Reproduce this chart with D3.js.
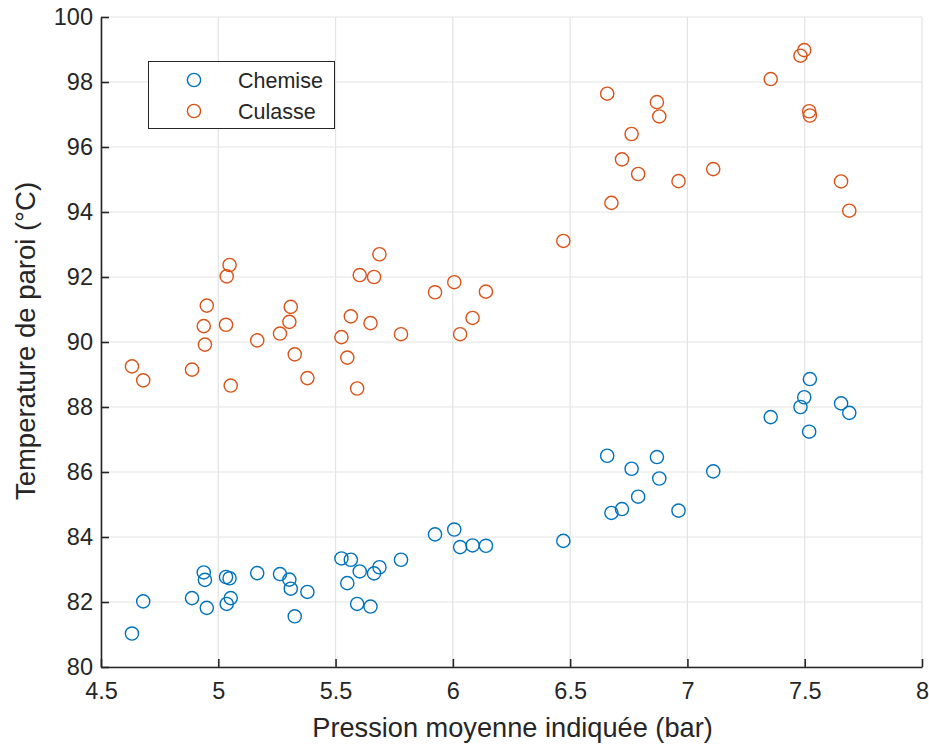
<!DOCTYPE html>
<html><head><meta charset="utf-8">
<script src="https://cdn.jsdelivr.net/npm/d3@7"></script>
<style>
body{margin:0;background:#fff;}
text{font-family:"Liberation Sans",Arial,Helvetica,sans-serif;fill:#262626;}
</style></head>
<body><svg id="c" width="929" height="747"></svg>
<script>
const pmi = [4.632,4.680,4.888,4.938,4.943,4.951,5.033,5.036,5.048,5.053,5.166,5.263,5.303,5.309,5.326,5.380,5.525,5.550,5.565,5.592,5.603,5.649,5.664,5.687,5.779,5.924,6.006,6.031,6.084,6.141,6.471,6.658,6.676,6.721,6.762,6.790,6.870,6.880,6.962,7.110,7.355,7.482,7.498,7.519,7.522,7.655,7.690];
const culasse = [89.25,88.82,89.15,90.49,89.92,91.12,90.53,92.02,92.37,88.66,90.05,90.26,90.62,91.08,89.62,88.89,90.15,89.52,90.79,88.57,92.06,90.58,92.00,92.70,90.24,91.53,91.84,90.24,90.74,91.55,93.11,97.64,94.28,95.62,96.40,95.17,97.38,96.94,94.95,95.32,98.09,98.81,98.98,97.10,96.97,94.94,94.04];
const chemise = [81.03,82.02,82.12,82.91,82.68,81.82,82.77,81.94,82.73,82.12,82.89,82.86,82.69,82.41,81.56,82.31,83.34,82.58,83.30,81.94,82.94,81.86,82.88,83.07,83.30,84.08,84.23,83.69,83.74,83.73,83.88,86.50,84.74,84.86,86.10,85.24,86.46,85.80,84.81,86.02,87.69,88.00,88.30,87.24,88.86,88.11,87.82];
const xTicks = [4.5,5,5.5,6,6.5,7,7.5,8];
const yTicks = [80,82,84,86,88,90,92,94,96,98,100];
const seriesNames = ["Chemise","Culasse"];
const seriesColors = ["#0072BD","#D95319"];

const svg = d3.select("#c");
const L=101, R=922, T=17, B=667;
const x = d3.scaleLinear().domain([4.5,8]).range([L,R]);
const y = d3.scaleLinear().domain([80,100]).range([B,T]);

// grid
const g = svg.append("g");
g.selectAll(".vg").data(xTicks).enter().append("line")
  .attr("x1",d=>x(d)).attr("x2",d=>x(d)).attr("y1",T).attr("y2",B)
  .attr("stroke","#e3e3e3").attr("stroke-width",1.2);
g.selectAll(".hg").data(yTicks).enter().append("line")
  .attr("x1",L).attr("x2",R).attr("y1",d=>y(d)).attr("y2",d=>y(d))
  .attr("stroke","#e3e3e3").attr("stroke-width",1.2);

// axes
const xa = svg.append("g").attr("transform",`translate(0,${B})`)
  .call(d3.axisBottom(x).tickValues(xTicks).tickSizeInner(-8).tickSizeOuter(0).tickPadding(16).tickFormat(d3.format("")));
const ya = svg.append("g").attr("transform",`translate(${L},0)`)
  .call(d3.axisLeft(y).tickValues(yTicks).tickSizeInner(-8).tickSizeOuter(0).tickPadding(8).tickFormat(d3.format("")));
[xa,ya].forEach(a=>{
  a.select(".domain").attr("stroke","#262626").attr("stroke-width",1.6);
  a.selectAll(".tick line").attr("stroke","#262626").attr("stroke-width",1.6);
  a.selectAll(".tick text").attr("font-size",23.5).attr("fill","#262626")
   .style("font-family","'Liberation Sans',Arial,sans-serif");
});
xa.selectAll(".tick text").attr("dy","0.71em").attr("y",15);

// points
const series = [chemise, culasse];
series.forEach((vals,si)=>{
  svg.append("g").selectAll("circle").data(vals).enter().append("circle")
    .attr("cx",(d,i)=>x(pmi[i])).attr("cy",d=>y(d)).attr("r",6.6)
    .attr("fill","none").attr("stroke",seriesColors[si]).attr("stroke-width",1.4);
});

// labels
svg.append("text").attr("x",(L+R)/2+1).attr("y",737).attr("text-anchor","middle")
  .attr("font-size",27.2).text("Pression moyenne indiquée (bar)");
svg.append("text").attr("transform",`translate(35,${(T+B)/2-1}) rotate(-90)`).attr("text-anchor","middle")
  .attr("font-size",27.5).text("Temperature de paroi (°C)");

// legend
const lg = svg.append("g");
lg.append("rect").attr("x",148.5).attr("y",61.5).attr("width",186).attr("height",67)
  .attr("fill","#fff").attr("stroke","#262626").attr("stroke-width",1);
seriesNames.forEach((n,i)=>{
  const yy = 80 + i*31;
  lg.append("circle").attr("cx",194).attr("cy",yy).attr("r",6.6)
    .attr("fill","none").attr("stroke",seriesColors[i]).attr("stroke-width",1.4);
  lg.append("text").attr("x",238).attr("y",yy).attr("dy","0.36em").attr("font-size",21.5).text(n);
});
</script></body></html>
